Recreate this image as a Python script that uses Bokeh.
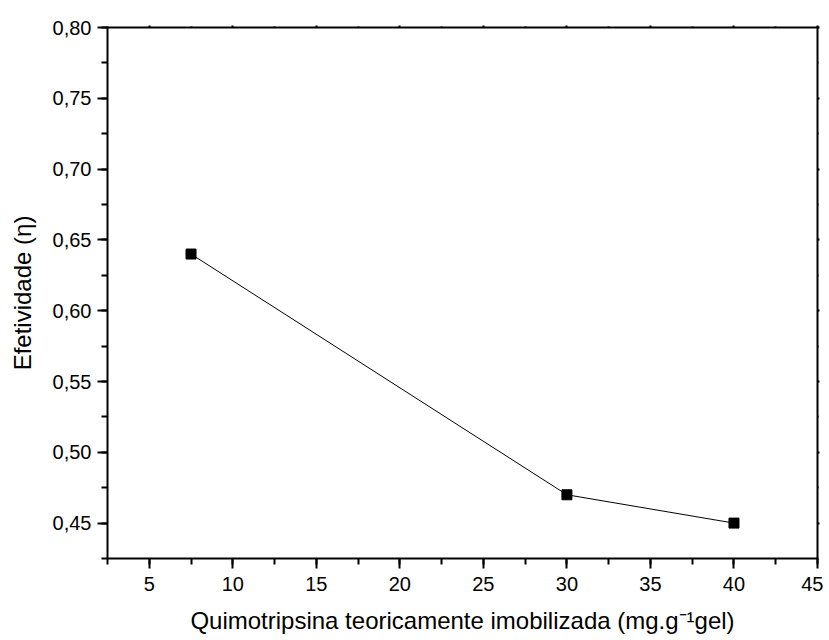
from bokeh.plotting import figure
from bokeh.models import (LinearAxis, SingleIntervalTicker, CustomJSTickFormatter, Range1d)
from bokeh.embed import file_html
from bokeh.resources import INLINE

# Data
quimotripsina = [7.5, 30, 40]
efetividade = [0.64, 0.47, 0.45]

x_label = "Quimotripsina teoricamente imobilizada (mg.g\u207b\u00b9gel)"
y_label = "Efetividade (\u03b7)"

FONT = "Liberation Sans"

p = figure(frame_width=710, frame_height=531, output_backend="svg", toolbar_location=None,
           x_range=Range1d(2.5, 45), y_range=Range1d(0.425, 0.80),
           min_border_left=107, min_border_top=27, min_border_right=6, min_border_bottom=10,
           x_axis_type=None, y_axis_type=None)
p.grid.visible = False
p.outline_line_color = None
p.background_fill_color = "white"
p.border_fill_color = "white"

fmt = CustomJSTickFormatter(code="return tick.toFixed(2).replace('.', ',');")
blank = CustomJSTickFormatter(code="return '';")

xb = LinearAxis(ticker=SingleIntervalTicker(interval=5, num_minor_ticks=2))
yl = LinearAxis(ticker=SingleIntervalTicker(interval=0.05, num_minor_ticks=2), formatter=fmt)
xt = LinearAxis(ticker=SingleIntervalTicker(interval=5, num_minor_ticks=2), formatter=blank)
yr = LinearAxis(ticker=SingleIntervalTicker(interval=0.05, num_minor_ticks=2), formatter=blank)

for ax in (xb, yl, xt, yr):
    ax.axis_line_width = 2
    ax.axis_line_color = "black"
    ax.major_tick_line_color = "black"
    ax.minor_tick_line_color = "black"
    ax.major_tick_line_width = 2
    ax.minor_tick_line_width = 2
    ax.major_label_text_font = FONT
    ax.major_label_text_font_size = "20px"
    ax.major_label_text_color = "black"
    ax.axis_label_text_font = FONT
    ax.axis_label_text_font_size = "24px"
    ax.axis_label_text_font_style = "normal"
    ax.axis_label_text_color = "black"

for ax in (xb, yl):
    ax.major_tick_out = 10
    ax.major_tick_in = 0
    ax.minor_tick_out = 6
    ax.minor_tick_in = 0
    ax.major_label_standoff = 6

xb.major_label_standoff = 8

for ax in (xt, yr):
    ax.major_tick_out = 2
    ax.major_tick_in = 0
    ax.minor_tick_out = 1
    ax.minor_tick_in = 0
    ax.major_label_standoff = 0

xb.axis_label = x_label
xb.axis_label_standoff = 13
yl.axis_label = y_label
yl.axis_label_standoff = 14

p.add_layout(xb, "below")
p.add_layout(yl, "left")
p.add_layout(xt, "above")
p.add_layout(yr, "right")

p.line(quimotripsina, efetividade, line_color="black", line_width=1)
p.scatter(quimotripsina, efetividade, marker="square", size=10, fill_color="black", line_color="black")

open("out.html", "w").write(file_html(p, INLINE))
